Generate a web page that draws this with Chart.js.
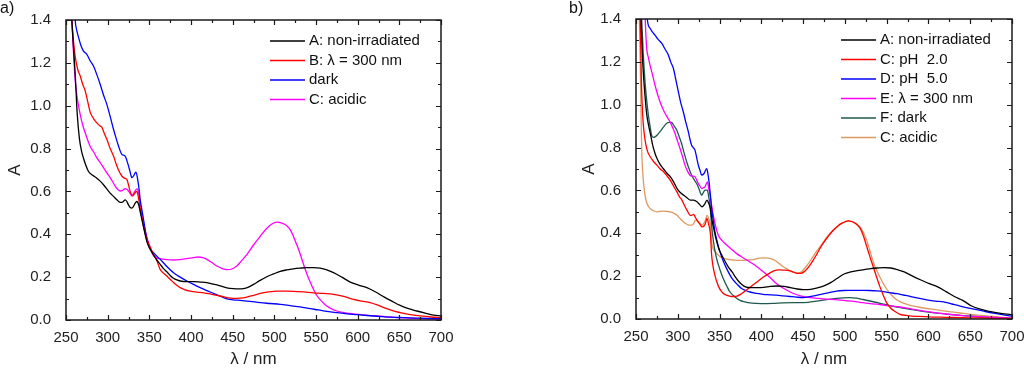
<!DOCTYPE html>
<html lang="en">
<head>
<meta charset="UTF-8">
<title>Absorption spectra</title>
<script src="https://cdn.jsdelivr.net/npm/chart.js"></script>
<style>
  body { margin: 0; background: #fff; }
  .panel { position: absolute; top: 0; width: 512px; height: 370px; }
  #panelA { left: 0; }
  #panelB { left: 512px; }
</style>
</head>
<body>
<div class="panel" id="panelA"><canvas id="chartA" width="512" height="370"></canvas></div>
<div class="panel" id="panelB"><canvas id="chartB" width="512" height="370"></canvas></div>
<script>
// ---- panel a) ----
const aLabels = ['A: non-irradiated', 'B: \u03bb = 300 nm', 'dark', 'C: acidic'];
const aColors = ['#000000', '#ff0000', '#0000ff', '#ff00ff'];

const aWlNonIrr = [253,257,259,261,263.5,266,268.5,271,274,277,282,287,291,295,299,303,307,311,315,318,321,323,325,327,329,331,333,335,337,339,341,343,345,347,351,355,359,363,367,371,375,379,383,387,395,403,411,419,427,435,443,451,457,463,469,475,483,491,499,507,515,523,531,539,547,555,563,571,581,591,601,611,621,631,641,651,661,671,681,691,700];
const aAbsNonIrr = [1.65,1.40,1.27,1.15,0.96,0.85,0.79,0.755,0.72,0.693,0.675,0.662,0.648,0.631,0.612,0.592,0.577,0.561,0.549,0.55,0.561,0.553,0.537,0.525,0.522,0.53,0.545,0.553,0.54,0.506,0.47,0.435,0.40,0.366,0.33,0.304,0.28,0.26,0.24,0.225,0.208,0.195,0.187,0.182,0.179,0.179,0.177,0.174,0.167,0.159,0.15,0.146,0.145,0.146,0.153,0.166,0.185,0.202,0.215,0.227,0.234,0.239,0.242,0.244,0.244,0.242,0.234,0.221,0.2,0.177,0.163,0.151,0.132,0.109,0.088,0.068,0.053,0.042,0.032,0.023,0.019];

const aWl300 = [254,257,259,261,264,267,270,273,276,279,283,287,291,293,296,299,303,307,310,313,317,320,323,325,327,330,333,335,337,339,341,344,347,351,355,359,363,369,375,381,387,393,399,407,415,425,435,443,451,459,467,475,483,493,503,513,523,535,547,559,571,583,595,605,615,625,635,645,655,665,675,688,700];
const aAbs300 = [1.6,1.40,1.30,1.23,1.17,1.14,1.10,1.07,1.02,0.97,0.94,0.92,0.905,0.90,0.87,0.843,0.80,0.765,0.73,0.70,0.672,0.662,0.656,0.63,0.60,0.579,0.594,0.6,0.57,0.52,0.48,0.42,0.376,0.34,0.306,0.278,0.236,0.212,0.19,0.168,0.151,0.141,0.135,0.13,0.127,0.12,0.112,0.104,0.101,0.102,0.107,0.115,0.124,0.131,0.135,0.135,0.134,0.131,0.127,0.124,0.12,0.11,0.096,0.088,0.081,0.068,0.053,0.04,0.031,0.024,0.019,0.014,0.011];

const aWlDark = [258,261,263,265,268,271,275,279,283,287,291,295,299,303,307,310,313,317,321,323,325,327,329,331,333,334,336,338,339,341,343,346,350,356,363,371,379,387,395,403,411,419,427,435,443,451,459,471,483,495,507,519,531,543,553,563,575,587,599,611,625,640,655,670,685,700];
const aAbsDark = [1.65,1.40,1.35,1.32,1.28,1.255,1.24,1.21,1.185,1.145,1.10,1.05,1.006,0.95,0.89,0.85,0.812,0.773,0.765,0.745,0.719,0.69,0.664,0.672,0.687,0.69,0.656,0.60,0.563,0.515,0.47,0.40,0.34,0.31,0.283,0.25,0.221,0.2,0.182,0.166,0.151,0.137,0.124,0.111,0.099,0.094,0.092,0.087,0.081,0.077,0.073,0.067,0.061,0.053,0.047,0.04,0.034,0.029,0.025,0.021,0.017,0.013,0.011,0.009,0.007,0.006];

const aWlAcidic = [254,257,259,261,263,265,267,270,273,276,279,283,287,291,295,299,303,306,309,312,315,318,321,323,325,327,329,331,333,335,336,338,340,343,346,349,352,355,359,363,371,379,387,395,403,409,415,419,425,431,437,443,449,455,461,467,475,483,491,497,503,509,515,520,525,530,535,540,545,550,555,560,566,575,590,610,630,650,675,700];
const aAbsAcidic = [1.6,1.40,1.25,1.12,1.05,1.0,0.96,0.91,0.874,0.84,0.81,0.785,0.757,0.735,0.711,0.687,0.664,0.645,0.625,0.61,0.602,0.605,0.613,0.61,0.602,0.59,0.579,0.59,0.602,0.612,0.61,0.57,0.52,0.454,0.40,0.361,0.33,0.30,0.29,0.286,0.282,0.28,0.282,0.286,0.291,0.294,0.29,0.283,0.268,0.252,0.241,0.235,0.238,0.252,0.278,0.305,0.35,0.39,0.428,0.448,0.457,0.452,0.44,0.415,0.37,0.32,0.26,0.205,0.16,0.12,0.095,0.075,0.058,0.042,0.031,0.023,0.017,0.011,0.006,0.003];

// ---- panel b) ----
const bLabels = ['A: non-irradiated', 'C: pH  2.0', 'D: pH  5.0', 'E: \u03bb = 300 nm', 'F: dark', 'C: acidic'];
const bColors = ['#000000', '#ff0000', '#0000ff', '#ff00ff', '#1f5a50', '#dc9a62'];

const bWlNonIrr = [254,256,258,261,263,265,268,270,273,275,279,283,287,291,295,299,303,307,311,315,319,323,326,329,332,335,337,339,341,343,346,349,353,357,361,365,369,373,377,381,387,395,403,411,419,427,435,443,451,459,467,475,483,491,499,507,515,523,531,539,547,555,563,571,581,591,601,611,621,631,641,651,661,671,681,691,700];
const bAbsNonIrr = [1.65,1.40,1.2,1.03,0.95,0.905,0.85,0.81,0.77,0.75,0.72,0.70,0.68,0.664,0.64,0.61,0.59,0.578,0.566,0.555,0.555,0.547,0.535,0.523,0.535,0.555,0.54,0.516,0.46,0.422,0.37,0.329,0.295,0.266,0.24,0.22,0.195,0.175,0.16,0.15,0.146,0.146,0.148,0.152,0.154,0.152,0.146,0.14,0.137,0.138,0.145,0.155,0.17,0.19,0.21,0.22,0.226,0.23,0.235,0.238,0.24,0.238,0.23,0.22,0.2,0.182,0.165,0.15,0.128,0.105,0.087,0.062,0.047,0.037,0.03,0.024,0.02];

const bWlPh2 = [252,255,256.5,258,260,262,264,267,271,275,279,283,287,291,295,299,302,305,308,311,315,317,319,321,323,326,329,331,333,335,337,339,340.5,342,344.5,347,349,352,355,359,363,367,371,375,379,385,391,397,403,409,415,421,427,433,438,443,447,451,456,461,466,471,476,481,486,491,496,501,504,508,513,518,522,526,530,534,538,542,546,550,555,560,566,575,588,605,620,640,660,680,700];
const bAbsPh2 = [1.65,1.40,1.1,0.95,0.86,0.81,0.78,0.757,0.735,0.718,0.70,0.687,0.668,0.648,0.62,0.593,0.57,0.555,0.53,0.508,0.484,0.485,0.488,0.475,0.461,0.445,0.43,0.433,0.445,0.469,0.44,0.4,0.3,0.25,0.204,0.17,0.15,0.13,0.118,0.11,0.106,0.105,0.107,0.115,0.126,0.143,0.162,0.18,0.197,0.212,0.225,0.229,0.228,0.226,0.22,0.213,0.213,0.22,0.24,0.268,0.3,0.335,0.365,0.39,0.414,0.432,0.446,0.455,0.458,0.455,0.445,0.425,0.39,0.34,0.29,0.243,0.195,0.15,0.11,0.075,0.05,0.035,0.022,0.016,0.012,0.009,0.008,0.006,0.005,0.003,0.002];

const bWlPh5 = [261,263.5,266.8,269.5,272.7,276.5,280.7,284.7,288.7,291.5,294.7,297.5,300.7,303.5,306.6,309.5,312.6,314.5,316.6,318.5,320.6,322.5,324.6,326.5,328.6,331.4,334.6,336,337.4,339,340.5,342.5,344.5,347.5,350.5,354.5,358.5,362.5,366.5,371.5,376.4,381.4,386.4,394,402,410,418,426,434,442,450,458,466,474,482,490,498,506,514,522,530,538,546,554,562,570,578,588,598,608,618,628,638,648,658,668,678,690,700];
const bAbsPh5 = [1.65,1.40,1.357,1.34,1.325,1.305,1.287,1.26,1.232,1.2,1.17,1.12,1.06,1.01,0.967,0.92,0.874,0.84,0.811,0.8,0.788,0.755,0.718,0.695,0.671,0.679,0.702,0.68,0.64,0.58,0.516,0.46,0.407,0.355,0.313,0.27,0.235,0.205,0.181,0.16,0.142,0.133,0.126,0.12,0.115,0.113,0.111,0.108,0.105,0.102,0.1,0.104,0.11,0.117,0.124,0.13,0.133,0.134,0.134,0.134,0.133,0.131,0.128,0.123,0.118,0.112,0.106,0.097,0.089,0.083,0.08,0.07,0.06,0.051,0.044,0.035,0.027,0.019,0.013];

const bWl300 = [259,261,262.8,264.8,266.8,269.7,272.7,275.7,278.7,281.7,284.7,287.7,290.7,293.7,296.7,299.7,302.7,305.7,308.6,311.6,314.6,317.6,320.6,322.6,324.6,326.6,328.6,330.6,332.6,335.4,337,338.6,340.5,342.5,345.5,348.5,352.5,356.5,363.5,370.5,378.5,386.4,394.4,402.4,410,418.3,428,438.3,448,458.2,468,478,488,498,508,518,528,538,548,558,566,578,590,605,620,640,660,680,700];
const bAbs300 = [1.65,1.40,1.263,1.22,1.185,1.14,1.092,1.05,1.014,0.985,0.96,0.94,0.92,0.895,0.866,0.83,0.796,0.757,0.718,0.69,0.671,0.667,0.664,0.648,0.632,0.62,0.609,0.612,0.617,0.64,0.61,0.578,0.53,0.484,0.43,0.391,0.368,0.352,0.328,0.305,0.285,0.266,0.245,0.22,0.195,0.165,0.14,0.119,0.107,0.1,0.096,0.093,0.09,0.087,0.083,0.078,0.073,0.069,0.064,0.06,0.056,0.048,0.04,0.031,0.024,0.016,0.011,0.007,0.004];

const bWlDark = [253,256.8,258.5,260.8,262.8,264.8,266.8,268.7,270.7,272.7,275.7,278.7,282.7,286.7,289.7,292.7,295.7,298.7,301.6,304.6,307.6,310.6,313.6,316.6,319.6,322.6,325.6,328.6,330.6,332.6,335.4,337,338.6,340,341.7,344,346.5,350.5,354.5,358.5,362.5,368.5,374.5,380.5,386.4,394.4,402.4,414,426,438,446.3,456,466,478.2,490,498,506.1,514,522,530,538,548,558,568,578,588,598,610,624,638,652,666,682,700];
const bAbsDark = [1.65,1.40,1.25,1.107,1.02,0.952,0.9,0.858,0.848,0.85,0.86,0.874,0.895,0.913,0.918,0.917,0.9,0.882,0.852,0.819,0.775,0.734,0.70,0.671,0.65,0.632,0.605,0.578,0.59,0.601,0.601,0.57,0.531,0.46,0.391,0.33,0.282,0.23,0.188,0.155,0.126,0.103,0.087,0.08,0.075,0.073,0.072,0.073,0.075,0.076,0.076,0.078,0.083,0.09,0.096,0.099,0.1,0.097,0.091,0.084,0.077,0.068,0.059,0.052,0.045,0.039,0.033,0.027,0.022,0.017,0.013,0.009,0.005,0.002];

const bWlAcidic = [252,254,255.5,256.8,258.5,260.8,263,266.8,271,275,279,283,287,291,295,299,303,307,311,313,317,319,321,323,325,327,329,331,333,335,337,339,340.5,342,345,348,351,356,362,368,374,382,390,398,405,411,416,421,426,431,436,442,447,451,455,460,465,470,475,480,486,491,496,501,504,508,513,518,522,526,530,534,538,542,546,550,554,558,564,570,578,588,598,608,618,628,638,650,662,678,690,700];
const bAbsAcidic = [1.65,1.40,1.1,0.796,0.66,0.578,0.54,0.516,0.505,0.5,0.502,0.503,0.502,0.5,0.494,0.484,0.468,0.453,0.442,0.438,0.438,0.445,0.461,0.458,0.453,0.445,0.438,0.445,0.461,0.484,0.47,0.438,0.36,0.33,0.313,0.3,0.29,0.282,0.277,0.275,0.274,0.275,0.277,0.284,0.285,0.282,0.274,0.26,0.245,0.233,0.222,0.215,0.218,0.232,0.252,0.28,0.31,0.336,0.363,0.39,0.414,0.432,0.446,0.455,0.458,0.456,0.447,0.43,0.405,0.368,0.318,0.266,0.228,0.195,0.165,0.14,0.12,0.103,0.085,0.074,0.064,0.056,0.049,0.044,0.038,0.033,0.028,0.022,0.017,0.012,0.008,0.005];

const xTickStep = 50;
const yTickStep = 0.2;

const FONT = '"Liberation Sans", Arial, sans-serif';

function toPoints(wl, abs) {
  return wl.map((w, i) => ({ x: w, y: abs[i] }));
}

function makeSets(labels, colors, series) {
  return series.map((s, i) => ({
    label: labels[i],
    data: toPoints(s[0], s[1]),
    borderColor: colors[i],
    borderWidth: 1.3,
    pointRadius: 0,
    fill: false,
    cubicInterpolationMode: 'monotone'
  }));
}

// frame, inward ticks, legend inside the plot and the panel letter
const framePlugin = {
  id: 'frame',
  afterDraw(chart, args, opts) {
    const { ctx, chartArea: a, scales: { x, y } } = chart;
    ctx.save();
    ctx.strokeStyle = '#1a1a1a';
    ctx.lineWidth = 1.5;
    ctx.strokeRect(a.left, a.top, a.right - a.left, a.bottom - a.top);

    ctx.lineWidth = 1.2;
    ctx.beginPath();
    for (let v = x.min; v <= x.max + 0.01; v += xTickStep / 2) {
      const px = Math.round(x.getPixelForValue(v)) + 0.5;
      const len = Math.abs((v - x.min) % xTickStep) < 0.01 ? 5 : 3;
      ctx.moveTo(px, a.bottom); ctx.lineTo(px, a.bottom - len);
      ctx.moveTo(px, a.top); ctx.lineTo(px, a.top + len);
    }
    const n = Math.round((y.max - y.min) / (yTickStep / 2));
    for (let i = 0; i <= n; i++) {
      const py = Math.round(y.getPixelForValue(y.min + i * yTickStep / 2)) + 0.5;
      const len = i % 2 === 0 ? 5 : 3;
      ctx.moveTo(a.left, py); ctx.lineTo(a.left + len, py);
      ctx.moveTo(a.right, py); ctx.lineTo(a.right - len, py);
    }
    ctx.stroke();

    // legend
    const lx = a.right - opts.legendRight;
    ctx.font = '15px ' + FONT;
    ctx.textBaseline = 'middle';
    ctx.textAlign = 'left';
    chart.data.datasets.forEach((ds, i) => {
      const ly = a.top + opts.legendTop + i * 19.5;
      ctx.strokeStyle = ds.borderColor;
      ctx.lineWidth = 1.5;
      ctx.beginPath();
      ctx.moveTo(lx, ly); ctx.lineTo(lx + 35, ly);
      ctx.stroke();
      ctx.fillStyle = '#111';
      ctx.fillText(ds.label, lx + 39, ly);
    });

    ctx.font = '16px ' + FONT;
    ctx.fillStyle = '#111';
    ctx.fillText(opts.panel, opts.panelX, 9);
    ctx.restore();
  }
};

function makeChart(id, datasets, pad, yWidth, xHeight, panel, panelX) {
  return new Chart(document.getElementById(id), {
    type: 'line',
    data: { datasets },
    options: {
      responsive: false,
      animation: false,
      devicePixelRatio: 1,
      layout: { padding: pad },
      plugins: {
        legend: { display: false },
        tooltip: { enabled: false },
        frame: { legendRight: 171, legendTop: 21, panel, panelX }
      },
      scales: {
        x: {
          type: 'linear',
          min: 250,
          max: 700,
          grid: { display: false },
          border: { display: false },
          ticks: { stepSize: xTickStep, padding: 1, color: '#222', font: { family: FONT, size: 15 } },
          title: { display: true, text: '\u03bb / nm', color: '#222', padding: { top: 0, bottom: 0 }, font: { family: FONT, size: 17 } },
          afterFit: s => { s.height = xHeight; s.paddingLeft = 0; s.paddingRight = 0; }
        },
        y: {
          min: 0,
          max: 1.4,
          grid: { display: false },
          border: { display: false },
          ticks: { stepSize: yTickStep, padding: 7, color: '#222', font: { family: FONT, size: 15 },
                   callback: v => v.toFixed(1) },
          title: { display: true, text: 'A', color: '#222', padding: { top: 5, bottom: 0 }, font: { family: FONT, size: 17 } },
          afterFit: s => { s.width = yWidth; s.paddingTop = 0; s.paddingBottom = 0; }
        }
      }
    },
    plugins: [framePlugin]
  });
}

makeChart('chartA',
  makeSets(aLabels, aColors, [
    [aWlNonIrr, aAbsNonIrr], [aWl300, aAbs300], [aWlDark, aAbsDark], [aWlAcidic, aAbsAcidic]
  ]),
  { left: 0, right: 71, top: 20, bottom: 0 }, 66, 50, 'a)', 0);

makeChart('chartB',
  makeSets(bLabels, bColors, [
    [bWlNonIrr, bAbsNonIrr], [bWlPh2, bAbsPh2], [bWlPh5, bAbsPh5],
    [bWl300, bAbs300], [bWlDark, bAbsDark], [bWlAcidic, bAbsAcidic]
  ]),
  { left: 62, right: 12, top: 19, bottom: 0 }, 62, 51, 'b)', 57);
</script>
</body>
</html>
